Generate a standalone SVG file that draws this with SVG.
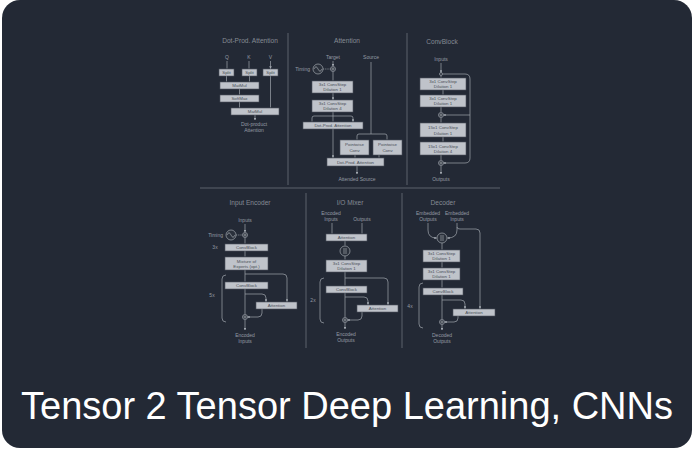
<svg xmlns="http://www.w3.org/2000/svg" width="700" height="452" viewBox="0 0 700 452">
<style>
text{font-family:"Liberation Sans",Arial,sans-serif}
.bx{fill:#bfc3ca;stroke:#4d535c;stroke-width:0.6}
.bt{font-size:4.4px;fill:#4a4f58;text-anchor:middle}
.lb{font-size:5px;fill:#959ba4;text-anchor:middle}
.tt{font-size:6.6px;fill:#858b94;text-anchor:middle}
.ln{stroke:#a0a6ae;stroke-width:0.7;fill:none}
.ar{marker-end:url(#ah)}
.dv{stroke:#757b84;stroke-width:0.7;fill:none}
.ci{fill:#2a303b;stroke:#a0a6ae;stroke-width:0.7}
.ttl{font-size:38px;fill:#ffffff;text-anchor:middle}
</style>
<defs>
<marker id="ah" viewBox="0 0 6 6" refX="5" refY="3" markerWidth="2.6" markerHeight="2.6" markerUnits="userSpaceOnUse" orient="auto"><path d="M0,0L6,3L0,6z" fill="#a0a6ae"/></marker>
<g id="sine"><circle r="5" class="ci"/><path d="M-4,0Q-2,-4.5 0,0T4,0" class="ln"/></g>
<g id="plus"><circle r="2.5" class="ci"/><path d="M-1.6,0H1.6M0,-1.6V1.6" class="ln" stroke-width="0.5"/></g>
<g id="cat"><circle r="5" class="ci"/><path d="M-1,-3V3M1,-3V3" class="ln"/></g>
</defs>
<rect x="0" y="0" width="700" height="452" fill="#ffffff"/>
<rect id="card" x="2" y="0" width="690" height="448" rx="18" fill="#232935"/>

<g id="dividers">
<path class="dv" d="M288,33V185M407,33V185M200,188H500M306,193V348M402,193V348"/>
</g>

<g id="connectors">
<path class="ln ar" d="M227,61V68.5M249,61V68.5M270.5,61V68.5"/>
<path class="ln ar" d="M226.5,76V81.5M249.5,76V81.5M239.5,89V94.5M239.5,102V107.5M270.5,76V107.5M255,115V120"/>
<path class="ln ar" d="M333,61V66"/>
<path class="ln" stroke-dasharray="1.2,1" d="M323,69H330.5"/>
<path class="ln ar" d="M333,71.5V80.5M333,93V99.5"/>
<path class="ln" d="M333,112V116M314,116H351"/>
<path class="ln ar" d="M312,118Q312,116 314,116M312,118V121.5M333,116V121.5M353,118V121.5"/>
<path class="ln" d="M351,116Q353,116 353,118"/>
<path class="ln ar" d="M333,129V157.5"/>
<path class="ln" d="M371,62V134M359,134H385M357,136Q357,134 359,134M385,134Q387,134 387,136"/>
<path class="ln ar" d="M357,136V139.5M387,136V139.5M355,155V157.5M379,155V157.5M357,166V174"/>
<path class="ln ar" d="M441,63V72.5"/>
<path class="ln ar" d="M441,75.5V77.5M443,90V94.5M441,107V112M441,117.5V122.5M443,137V141.5M441,155V160M441,165.5V174"/>
<path class="ln ar" d="M442.5,74H465Q470,74 470,79V158Q470,163 465,163H443.5"/>
<path class="ln ar" d="M470,115H443.5"/>
<path class="ln ar" d="M245,224V232"/>
<path class="ln" stroke-dasharray="1.2,1" d="M236,235H242.5"/>
<path class="ln ar" d="M245,237.5V243.5M245,251V256.5M245,270V281.5M245,289V314.5M245,319.5V330"/>
<path class="ln ar" d="M245,274H283Q287,274 287,278V301.5"/>
<path class="ln ar" d="M245,294H262Q266,294 266,298V301.5"/>
<path class="ln ar" d="M262,309V313Q262,317 258,317H247.5"/>
<path class="ln" d="M226,275Q222,275 222,279V318Q222,322 226,322"/>
<path class="ln ar" d="M332,223V233.5M362,223V233.5M345,241V245.5M345,256V259.5M345,272V285.5M345,293V317.5M345,322.5V329"/>
<path class="ln ar" d="M345,278H384Q388,278 388,282V304.5"/>
<path class="ln ar" d="M345,297H364Q368,297 368,301V304.5"/>
<path class="ln ar" d="M362,312V316Q362,320 358,320H347.5"/>
<path class="ln" d="M324,278Q320,278 320,282V319Q320,323 324,323"/>
<path class="ln ar" d="M428,223V230Q428,238 436.5,238"/>
<path class="ln ar" d="M457,223V230Q457,238 447.5,238"/>
<path class="ln ar" d="M457,227Q457,229 460,229H476Q480,229 480,233V308.5"/>
<path class="ln ar" d="M442,243V249.5M442,262V267.5M442,280V287.5M442,295V319.5M442,324.5V330"/>
<path class="ln ar" d="M442,300H461Q465,300 465,304V308.5"/>
<path class="ln ar" d="M458,316V318Q458,322 454,322H444.5"/>
<path class="ln" d="M423,283Q419,283 419,287V324Q419,328 423,328"/>
</g>

<g id="p1-title"><text class="tt" x="250" y="43">Dot-Prod. Attention</text></g>
<g id="p1-q"><text class="lb" x="227" y="59">Q</text></g>
<g id="p1-k"><text class="lb" x="249" y="59">K</text></g>
<g id="p1-v"><text class="lb" x="270.5" y="59">V</text></g>
<g id="p1-split1"><rect class="bx" x="219" y="69" width="15" height="7"/><text class="bt" x="226.5" y="74">Split</text></g>
<g id="p1-split2"><rect class="bx" x="242" y="69" width="15" height="7"/><text class="bt" x="249.5" y="74">Split</text></g>
<g id="p1-split3"><rect class="bx" x="263" y="69" width="15" height="7"/><text class="bt" x="270.5" y="74">Split</text></g>
<g id="p1-matmul1"><rect class="bx" x="220" y="82" width="39" height="7"/><text class="bt" x="239.5" y="87">MatMul</text></g>
<g id="p1-softmax"><rect class="bx" x="220" y="95" width="39" height="7"/><text class="bt" x="239.5" y="100">SoftMax</text></g>
<g id="p1-matmul2"><rect class="bx" x="231" y="108" width="48" height="7"/><text class="bt" x="255" y="113">MatMul</text></g>
<g id="p1-out"><text class="lb" x="254" y="126">Dot-product</text><text class="lb" x="254" y="132">Attention</text></g>

<g id="p2-title"><text class="tt" x="347" y="43">Attention</text></g>
<g id="p2-target"><text class="lb" x="333" y="59">Target</text></g>
<g id="p2-source"><text class="lb" x="371" y="59">Source</text></g>
<g id="p2-timing"><text class="lb" x="310" y="71" style="text-anchor:end">Timing</text><use href="#sine" x="318" y="69"/></g>
<g id="p2-plus"><use href="#plus" x="333" y="69"/></g>
<g id="p2-conv1"><rect class="bx" x="312" y="81" width="41" height="12"/><text class="bt" x="332.5" y="86.2">3x1 ConvStep</text><text class="bt" x="332.5" y="91.2">Dilation 1</text></g>
<g id="p2-conv2"><rect class="bx" x="312" y="100" width="41" height="12"/><text class="bt" x="332.5" y="105.2">3x1 ConvStep</text><text class="bt" x="332.5" y="110.2">Dilation 4</text></g>
<g id="p2-dpa1"><rect class="bx" x="303" y="122" width="60" height="7"/><text class="bt" x="333" y="127">Dot-Prod. Attention</text></g>
<g id="p2-pw1"><rect class="bx" x="340" y="140" width="29" height="15"/><text class="bt" x="354.5" y="146.2">Pointwise</text><text class="bt" x="354.5" y="151.5">Conv</text></g>
<g id="p2-pw2"><rect class="bx" x="373" y="140" width="29" height="15"/><text class="bt" x="387.5" y="146.2">Pointwise</text><text class="bt" x="387.5" y="151.5">Conv</text></g>
<g id="p2-dpa2"><rect class="bx" x="327" y="158" width="57" height="8"/><text class="bt" x="355.5" y="163.5">Dot-Prod. Attention</text></g>
<g id="p2-out"><text class="lb" x="357" y="181">Attended Source</text></g>

<g id="p3-title"><text class="tt" x="442" y="44">ConvBlock</text></g>
<g id="p3-in"><text class="lb" x="441" y="61">Inputs</text></g>
<g id="p3-node"><circle cx="441" cy="74" r="1.5" class="ci"/></g>
<g id="p3-conv1"><rect class="bx" x="420" y="78" width="46" height="12"/><text class="bt" x="443" y="83.2">3x1 ConvStep</text><text class="bt" x="443" y="88.2">Dilation 1</text></g>
<g id="p3-conv2"><rect class="bx" x="420" y="95" width="46" height="12"/><text class="bt" x="443" y="100.2">3x1 ConvStep</text><text class="bt" x="443" y="105.2">Dilation 1</text></g>
<g id="p3-plus1"><use href="#plus" x="441" y="115"/></g>
<g id="p3-conv3"><rect class="bx" x="420" y="123" width="46" height="14"/><text class="bt" x="443" y="129">15x1 ConvStep</text><text class="bt" x="443" y="134.5">Dilation 1</text></g>
<g id="p3-conv4"><rect class="bx" x="420" y="142" width="46" height="13"/><text class="bt" x="443" y="147.5">15x1 ConvStep</text><text class="bt" x="443" y="152.8">Dilation 4</text></g>
<g id="p3-plus2"><use href="#plus" x="441" y="163"/></g>
<g id="p3-out"><text class="lb" x="441" y="181">Outputs</text></g>

<g id="p4-title"><text class="tt" x="250" y="205">Input Encoder</text></g>
<g id="p4-in"><text class="lb" x="245" y="222">Inputs</text></g>
<g id="p4-timing"><text class="lb" x="223" y="237" style="text-anchor:end">Timing</text><use href="#sine" x="231" y="235"/></g>
<g id="p4-plus1"><use href="#plus" x="245" y="235"/></g>
<g id="p4-3x"><text class="lb" x="215" y="249">3x</text></g>
<g id="p4-cb1"><rect class="bx" x="225" y="244" width="43" height="7"/><text class="bt" x="246.5" y="249.2">ConvBlock</text></g>
<g id="p4-moe"><rect class="bx" x="225" y="257" width="43" height="13"/><text class="bt" x="246.5" y="262.5">Mixture of</text><text class="bt" x="246.5" y="267.8">Experts (opt.)</text></g>
<g id="p4-cb2"><rect class="bx" x="225" y="282" width="43" height="7"/><text class="bt" x="246.5" y="287.2">ConvBlock</text></g>
<g id="p4-att"><rect class="bx" x="256" y="302" width="41" height="7"/><text class="bt" x="276.5" y="307.2">Attention</text></g>
<g id="p4-5x"><text class="lb" x="212" y="297">5x</text></g>
<g id="p4-plus2"><use href="#plus" x="245" y="317"/></g>
<g id="p4-out"><text class="lb" x="245" y="337">Encoded</text><text class="lb" x="245" y="343">Inputs</text></g>

<g id="p5-title"><text class="tt" x="350" y="205">I/O Mixer</text></g>
<g id="p5-enc"><text class="lb" x="331" y="215">Encoded</text><text class="lb" x="331" y="221">Inputs</text></g>
<g id="p5-outs"><text class="lb" x="362" y="221">Outputs</text></g>
<g id="p5-att1"><rect class="bx" x="326" y="234" width="41" height="7"/><text class="bt" x="346.5" y="239.2">Attention</text></g>
<g id="p5-cat"><use href="#cat" x="345" y="251"/></g>
<g id="p5-conv"><rect class="bx" x="326" y="260" width="41" height="12"/><text class="bt" x="346.5" y="265.2">3x1 ConvStep</text><text class="bt" x="346.5" y="270.2">Dilation 1</text></g>
<g id="p5-cb"><rect class="bx" x="326" y="286" width="41" height="7"/><text class="bt" x="346.5" y="291.2">ConvBlock</text></g>
<g id="p5-att2"><rect class="bx" x="357" y="305" width="41" height="7"/><text class="bt" x="377.5" y="310.2">Attention</text></g>
<g id="p5-2x"><text class="lb" x="313" y="302">2x</text></g>
<g id="p5-plus"><use href="#plus" x="345" y="320"/></g>
<g id="p5-out"><text class="lb" x="346" y="336">Encoded</text><text class="lb" x="346" y="342">Outputs</text></g>

<g id="p6-title"><text class="tt" x="443" y="205">Decoder</text></g>
<g id="p6-eo"><text class="lb" x="428" y="215">Embedded</text><text class="lb" x="428" y="221">Outputs</text></g>
<g id="p6-ei"><text class="lb" x="457" y="215">Embedded</text><text class="lb" x="457" y="221">Inputs</text></g>
<g id="p6-cat"><use href="#cat" x="442" y="238"/></g>
<g id="p6-conv1"><rect class="bx" x="423" y="250" width="37" height="12"/><text class="bt" x="441.5" y="255.2">3x1 ConvStep</text><text class="bt" x="441.5" y="260.2">Dilation 1</text></g>
<g id="p6-conv2"><rect class="bx" x="423" y="268" width="37" height="12"/><text class="bt" x="441.5" y="273.2">3x1 ConvStep</text><text class="bt" x="441.5" y="278.2">Dilation 1</text></g>
<g id="p6-cb"><rect class="bx" x="423" y="288" width="40" height="7"/><text class="bt" x="443" y="293.2">ConvBlock</text></g>
<g id="p6-att"><rect class="bx" x="453" y="309" width="42" height="7"/><text class="bt" x="474" y="314.2">Attention</text></g>
<g id="p6-4x"><text class="lb" x="410" y="308">4x</text></g>
<g id="p6-plus"><use href="#plus" x="442" y="322"/></g>
<g id="p6-out"><text class="lb" x="442" y="337">Decoded</text><text class="lb" x="442" y="343">Outputs</text></g>

<g id="title"><text class="ttl" x="347" y="419">Tensor 2 Tensor Deep Learning, CNNs</text></g>
</svg>
